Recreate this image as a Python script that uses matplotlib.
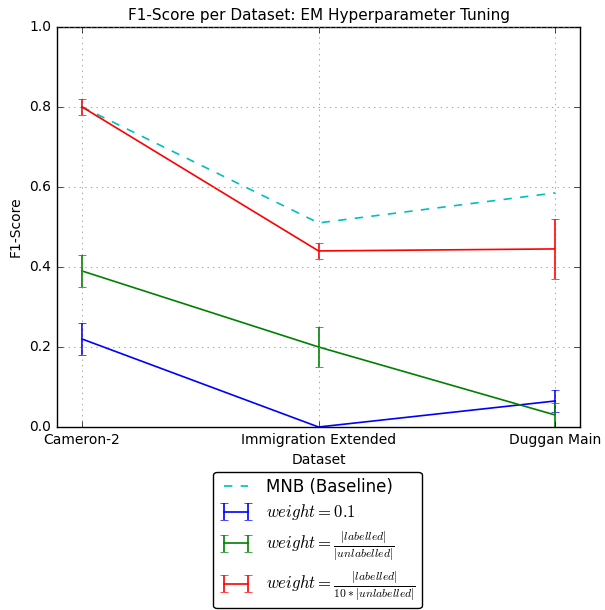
import matplotlib
matplotlib.use("Agg")
import matplotlib.pyplot as plt
import numpy as np

plt.style.use('classic')

datasets = ["Cameron-2", "Immigration Extended", "Duggan Main"]
baseline = [0.80, 0.51, 0.585]
w01 = [0.22, 0.0, 0.065]
w01_err = [0.04, 0.0, 0.027]
wratio = [0.39, 0.20, 0.03]
wratio_err = [0.04, 0.05, 0.03]
wratio10 = [0.80, 0.44, 0.445]
wratio10_err = [0.02, 0.02, 0.075]

labels = ["MNB (Baseline)",
          r"$weight=0.1$",
          r"$weight=\frac{|labelled|}{|unlabelled|}$",
          r"$weight=\frac{|labelled|}{10*|unlabelled|}$"]

x = np.arange(len(datasets))

fig = plt.figure(figsize=(6.05, 6.10), dpi=100, facecolor='white')
ax = fig.add_axes([0.094, 0.30, 0.865, 0.656])

ax.plot(x, baseline, 'c--', lw=1.2, label=labels[0])
ax.errorbar(x, w01, yerr=w01_err, color='b', lw=1.2, capsize=3, label=labels[1])
ax.errorbar(x, wratio, yerr=wratio_err, color='g', lw=1.2, capsize=3, label=labels[2])
ax.errorbar(x, wratio10, yerr=wratio10_err, color='r', lw=1.2, capsize=3, label=labels[3])

ax.set_xlim(-0.106, 2.106)
ax.set_ylim(0, 1.0)
ax.set_xticks(x)
ax.set_xticklabels(datasets, fontsize=10)
ax.set_yticks(np.arange(0, 1.01, 0.2))
ax.tick_params(axis='y', labelsize=10)
ax.grid(True, color='gray', linestyle=':')
ax.set_xlabel("Dataset", fontsize=10)
ax.set_ylabel("F1-Score", fontsize=10)
ax.set_title("F1-Score per Dataset: EM Hyperparameter Tuning", fontsize=11)

fig.legend(*ax.get_legend_handles_labels(), loc='upper center',
           bbox_to_anchor=(0.525, 0.24), fontsize=12, numpoints=2,
           handlelength=2.0, fancybox=True, labelspacing=0.4,
           borderpad=0.35)

fig.savefig("out.png", dpi=100, facecolor='white')
